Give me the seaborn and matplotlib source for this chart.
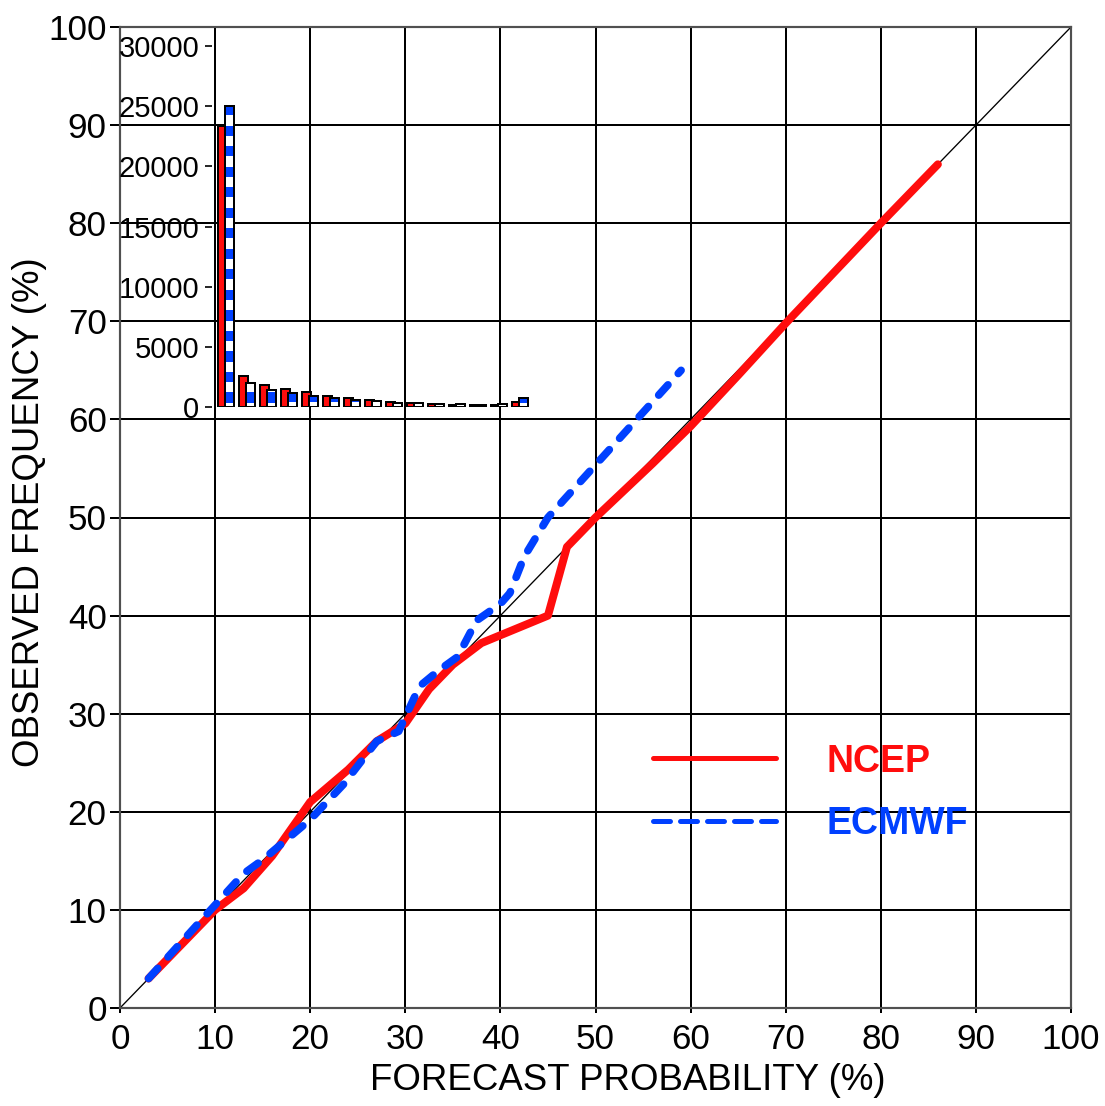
import numpy as np
import pandas as pd
import matplotlib
matplotlib.use("Agg")
import matplotlib.pyplot as plt
import seaborn as sns
from matplotlib.lines import Line2D
from matplotlib.colors import ListedColormap

# ---------------- data ----------------
ncep_prob = [3, 10, 13, 16, 20, 24, 27, 30, 32.5, 35, 38, 45, 47, 50, 56, 60, 65, 70, 80, 86]
ncep_freq = [3, 10, 12.2, 15.5, 21, 24.3, 27.2, 29, 32.5, 35, 37.2, 40, 47, 50, 55.5, 59.3, 64.5, 69.8, 80, 86]

ecmwf_prob = [3, 7, 10, 13, 15, 20, 23.5, 27, 29.3, 31.5, 33.5, 35.5, 37.5, 40, 41, 42.5, 45, 52, 59]
ecmwf_freq = [3, 7.3, 10.5, 13.7, 15.1, 19.2, 22.8, 27.2, 28.2, 32.8, 34.4, 35.8, 39.5, 41.2, 42.3, 46, 50, 57.5, 65]

bin_index = list(range(15))
ncep_counts = [23350, 2600, 1850, 1520, 1270, 940, 770, 600, 420, 330, 250, 170, 170, 170, 420]
ecmwf_counts = [25000, 2000, 1440, 1190, 930, 770, 600, 500, 330, 330, 250, 250, 170, 250, 720]

main_ticks = list(range(0, 101, 10))
inset_ticks = [0, 5000, 10000, 15000, 20000, 25000, 30000]

series_names = ["NCEP", "ECMWF"]

RED = "#ff0d0d"
BLUE = "#0040ff"
SPINE = "#505050"

# ---------------- style ----------------
sns.set_style("white")
plt.rcParams["font.family"] = ["Liberation Sans", "DejaVu Sans"]
plt.rcParams["text.color"] = "black"
plt.rcParams["axes.labelcolor"] = "black"
plt.rcParams["xtick.color"] = "black"
plt.rcParams["ytick.color"] = "black"

DPI = 120
W, H = 1105, 1106
fig = plt.figure(figsize=(W / DPI, H / DPI), dpi=DPI)
fig.patch.set_facecolor("white")

ax = fig.add_axes([120 / W, 1 - 1008 / H, 951 / W, 981 / H])
ax.set_xlim(0, 100)
ax.set_ylim(0, 100)
ax.set_xticks(main_ticks)
ax.set_yticks(main_ticks)
ax.grid(True, color="black", linewidth=1.2, zorder=0)
ax.set_axisbelow(True)
for s in ax.spines.values():
    s.set_color(SPINE)
    s.set_linewidth(1.3)
ax.tick_params(axis="x", direction="out", length=3, width=1.2,
               labelsize=21, pad=6, bottom=True)
ax.tick_params(axis="y", direction="out", length=6, width=1.2,
               labelsize=21, pad=2, left=True)
ax.set_xlabel("FORECAST PROBABILITY (%)", fontsize=22)
ax.set_ylabel("OBSERVED FREQUENCY (%)", fontsize=22)
ax.xaxis.set_label_coords((628 - 120) / 951, -0.056)
ax.yaxis.set_label_coords((47 - 120) / 951, (1008 - 512) / 981)

ax.axline((0, 0), slope=1, color="black", linewidth=0.8, zorder=2)

df_n = pd.DataFrame({"prob": ncep_prob, "freq": ncep_freq})
df_e = pd.DataFrame({"prob": ecmwf_prob, "freq": ecmwf_freq})

sns.lineplot(data=df_n, x="prob", y="freq", ax=ax, color=RED, linewidth=4.8,
             sort=False, estimator=None, legend=False,
             solid_capstyle="round", solid_joinstyle="round", zorder=3)
sns.lineplot(data=df_e, x="prob", y="freq", ax=ax, color=BLUE, linewidth=4.6,
             sort=False, estimator=None, legend=False,
             linestyle=(0, (1.8, 2.0)), dash_capstyle="round", zorder=4)

handles = [
    Line2D([], [], color=RED, linewidth=3.0, solid_capstyle="round"),
    Line2D([], [], color=BLUE, linewidth=3.0, linestyle=(0, (3.4, 2.0)),
           dash_capstyle="round"),
]
leg = ax.legend(handles, series_names, loc="center left",
                bbox_to_anchor=((652.5 - 120) / 951, (1008 - 793) / 981),
                frameon=False, borderpad=0, borderaxespad=0,
                handlelength=3.3, handletextpad=1.33, labelspacing=0.72,
                prop={"weight": "bold", "size": 22.5},
                labelcolor=[RED, BLUE])

# ---------------- inset histogram ----------------
ax_in = fig.add_axes([212 / W, 1 - 407 / H, (540 - 212) / W, (407 - 46) / H])
ax_in.patch.set_alpha(0)
for s in ax_in.spines.values():
    s.set_visible(False)
YMAX = 30000
ax_in.set_yticks(inset_ticks)
ax_in.set_yticklabels([str(t) for t in inset_ticks])
ax_in.set_xticks([])
ax_in.tick_params(axis="y", direction="out", length=4.5, width=1.0,
                  labelsize=17.5, pad=3, left=True)

idx = np.array(bin_index, dtype=float)
ax_in.bar(idx, ncep_counts, width=0.43, align="edge", color=RED,
          edgecolor="black", linewidth=1.2, zorder=2)
eb = ax_in.bar(idx + 0.31, ecmwf_counts, width=0.43, align="edge",
               facecolor="white", edgecolor="none", linewidth=0, zorder=3)

# horizontal blue/white stripe fill (~20.5 px period) for the ECMWF bars
px_per_count = (407 - 46) / YMAX
period = 20.52 / px_per_count
phase = 4.3 / px_per_count
yy = np.linspace(0, YMAX, 6000)
stripe = ((((yy - phase) % period) < period / 2).astype(float))[:, None]
cmap = ListedColormap(["white", BLUE])
for p in eb.patches:
    im = ax_in.imshow(stripe, extent=(p.get_x(), p.get_x() + p.get_width(), 0, YMAX),
                      origin="lower", cmap=cmap, vmin=0, vmax=1, aspect="auto",
                      interpolation="nearest", zorder=3.5)
    im.set_clip_path(p)

ax_in.bar(idx + 0.31, ecmwf_counts, width=0.43, align="edge", fill=False,
          edgecolor="black", linewidth=1.2, zorder=4)
ax_in.set_xlim(-0.3, 15.32)
ax_in.set_ylim(0, YMAX)

fig.savefig("out.png", dpi=DPI)
